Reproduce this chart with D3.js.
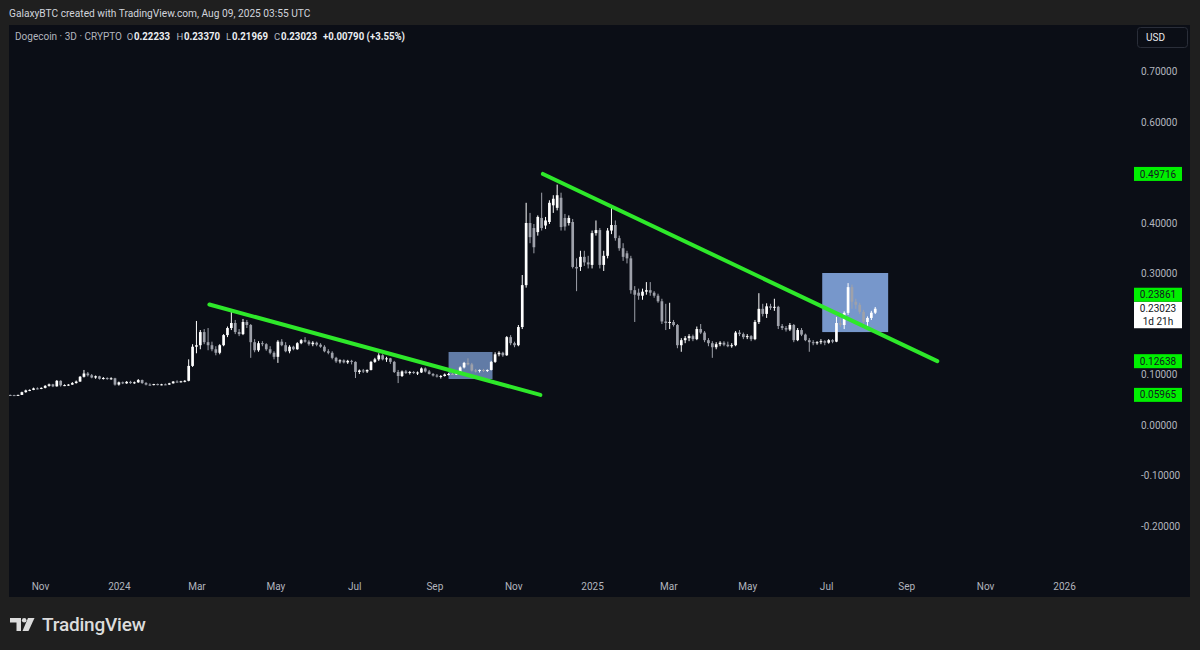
<!DOCTYPE html>
<html><head><meta charset="utf-8">
<script src="https://cdn.jsdelivr.net/npm/d3@7"></script>
<style>
html,body{margin:0;padding:0;background:#1f1f1f;overflow:hidden;}
svg{display:block;font-family:Roboto,"Liberation Sans",sans-serif;}
</style></head><body>
<svg id="chart" width="1200" height="650"></svg>
<script>
// ---- data ----
const candleStart = "2023-10-09";
const candleStepDays = 3;
const opens = [
.0595,.0592,.0590,.0596,.0650,.0685,.0695,.0725,.0720,.0735,
.0775,.0805,.0765,.0875,.0785,.0790,.0800,.0830,.0860,.0955,
.1020,.0985,.0940,.0965,.0915,.0930,.0910,.0925,.0800,.0845,
.0825,.0855,.0830,.0845,.0890,.0830,.0800,.0795,.0810,.0795,
.0805,.0800,.0825,.0860,.0850,.0865,.0875,.1170,.1550,.1580,
.1840,.1640,.1580,.1500,.1430,.1580,.1780,.1920,.2020,.1840,
.1800,.2040,.1980,.1640,.1480,.1620,.1600,.1500,.1430,.1350,
.1650,.1580,.1460,.1550,.1500,.1620,.1680,.1650,.1600,.1630,
.1590,.1550,.1460,.1430,.1330,.1260,.1280,.1240,.1270,.1250,
.1050,.1080,.1060,.1090,.1250,.1300,.1380,.1300,.1320,.1250,
.1050,.0970,.1060,.1030,.1050,.1030,.1040,.1120,.1060,.1010,
.0980,.0960,.0970,.1000,.1010,.1000,.1040,.1140,.1230,.1200,
.1080,.1070,.1090,.1070,.1090,.1250,.1400,.1430,.1380,.1740,
.1620,.1580,.1940,.2770,.4000,.3900,.3820,.4100,.3950,.4020,
.4350,.4300,.4500,.4100,.4000,.4020,.3130,.3130,.3330,.3220,
.3170,.3800,.3860,.3170,.3350,.3850,.3960,.3700,.3500,.3400,
.3300,.2670,.2620,.2560,.2640,.2670,.2620,.2560,.2450,.2050,
.2020,.2040,.1980,.1580,.1680,.1720,.1760,.1700,.1900,.1830,
.1680,.1620,.1540,.1600,.1630,.1590,.1560,.1580,.1830,.1800,
.1740,.1760,.1700,.2040,.2300,.2200,.2350,.2320,.2340,.1960,
.1920,.1890,.1980,.1680,.1880,.1790,.1680,.1640,.1620,.1640,
.1660,.1630,.1680,.1650,.2020,.1980,.2220,.2730,.2440,.2380,
.2240,.2040,.2120,.22233
];
const highs = [
.0602,.0598,.0600,.0660,.0700,.0705,.0740,.0745,.0745,.0790,
.0820,.0815,.0890,.0885,.0805,.0810,.0850,.0880,.0970,.1090,
.1050,.1010,.0980,.0975,.0950,.0945,.0945,.0935,.0860,.0860,
.0870,.0875,.0860,.0910,.0900,.0850,.0825,.0815,.0820,.0815,
.0820,.0835,.0870,.0885,.0875,.0890,.1300,.1600,.2060,.1880,
.1900,.1920,.1650,.1560,.1600,.1800,.1950,.2280,.2080,.1900,
.2100,.2080,.2000,.1700,.1660,.1660,.1620,.1560,.1460,.1680,
.1700,.1640,.1580,.1570,.1640,.1700,.1740,.1680,.1660,.1650,
.1620,.1580,.1500,.1460,.1350,.1300,.1300,.1290,.1290,.1260,
.1100,.1110,.1100,.1270,.1330,.1420,.1400,.1350,.1330,.1270,
.1090,.1080,.1090,.1070,.1070,.1060,.1140,.1140,.1090,.1030,
.1010,.0990,.1020,.1030,.1040,.1060,.1160,.1250,.1320,.1230,
.1110,.1100,.1110,.1100,.1270,.1440,.1460,.1450,.1760,.1780,
.1650,.1980,.2970,.4400,.4200,.3980,.4150,.4600,.4120,.4450,
.4550,.4760,.4600,.4180,.4150,.4080,.3300,.3450,.3450,.3350,
.3850,.4050,.3900,.3450,.3900,.4320,.4050,.3750,.3600,.3450,
.3350,.2750,.2700,.2700,.2830,.2830,.2650,.2600,.2500,.2400,
.2420,.2080,.2000,.1720,.1760,.1800,.1790,.1950,.2000,.1860,
.1720,.1660,.1640,.1660,.1660,.1650,.1620,.1860,.1880,.1830,
.1800,.1780,.2080,.2610,.2400,.2410,.2400,.2500,.2360,.2000,
.1960,.2020,.2000,.1920,.1920,.1810,.1720,.1680,.1660,.1700,
.1680,.1700,.1700,.2140,.2220,.2250,.2810,.2780,.2500,.2420,
.2280,.2150,.2260,.2337
];
const lows = [
.0588,.0585,.0586,.0594,.0640,.0670,.0690,.0705,.0710,.0725,
.0760,.0750,.0760,.0760,.0770,.0775,.0795,.0820,.0855,.0940,
.0960,.0925,.0915,.0900,.0900,.0895,.0895,.0780,.0780,.0810,
.0815,.0815,.0815,.0835,.0815,.0785,.0780,.0785,.0785,.0785,
.0790,.0795,.0820,.0840,.0840,.0845,.0865,.1150,.1420,.1500,
.1600,.1480,.1460,.1380,.1400,.1560,.1740,.1880,.1800,.1760,
.1780,.1920,.1330,.1440,.1450,.1560,.1470,.1400,.1300,.1230,
.1560,.1440,.1420,.1480,.1490,.1600,.1630,.1570,.1560,.1560,
.1530,.1440,.1400,.1300,.1230,.1220,.1220,.1210,.1200,.0930,
.1010,.1030,.1030,.1080,.1230,.1270,.1280,.1250,.1210,.1030,
.0830,.0950,.1010,.1000,.1010,.0990,.1030,.1040,.1000,.0960,
.0940,.0920,.0960,.0980,.0990,.0990,.1030,.1120,.1180,.1060,
.1040,.1040,.1050,.1050,.1080,.1230,.1360,.1350,.1370,.1580,
.1540,.1560,.1900,.2720,.3600,.3400,.3750,.3850,.3880,.3980,
.4200,.4250,.3850,.3850,.3950,.3100,.2650,.3050,.3150,.3100,
.3100,.3750,.3100,.3050,.3300,.3780,.3650,.3450,.3250,.3200,
.2600,.2040,.2480,.2480,.2580,.2560,.2520,.2420,.2000,.1880,
.1900,.1950,.1520,.1450,.1620,.1660,.1660,.1680,.1800,.1640,
.1560,.1330,.1500,.1560,.1560,.1540,.1530,.1560,.1760,.1700,
.1700,.1660,.1680,.2000,.2150,.2120,.2280,.2260,.1900,.1880,
.1850,.1860,.1640,.1660,.1760,.1660,.1450,.1580,.1590,.1600,
.1580,.1610,.1620,.1640,.1940,.1900,.2180,.2300,.2300,.2200,
.2000,.1920,.2080,.21969
];
const closes = [
.0592,.0590,.0596,.0650,.0685,.0695,.0725,.0720,.0735,.0775,
.0805,.0765,.0875,.0785,.0790,.0800,.0830,.0860,.0955,.1020,
.0985,.0940,.0965,.0915,.0930,.0910,.0925,.0800,.0845,.0825,
.0855,.0830,.0845,.0890,.0830,.0800,.0795,.0810,.0795,.0805,
.0800,.0825,.0860,.0850,.0865,.0875,.1170,.1550,.1580,.1840,
.1640,.1580,.1500,.1430,.1580,.1780,.1920,.2020,.1840,.1800,
.2040,.1980,.1640,.1480,.1620,.1600,.1500,.1430,.1350,.1650,
.1580,.1460,.1550,.1500,.1620,.1680,.1650,.1600,.1630,.1590,
.1550,.1460,.1430,.1330,.1260,.1280,.1240,.1270,.1250,.1050,
.1080,.1060,.1090,.1250,.1300,.1380,.1300,.1320,.1250,.1050,
.0970,.1060,.1030,.1050,.1030,.1040,.1120,.1060,.1010,.0980,
.0960,.0970,.1000,.1010,.1000,.1040,.1140,.1230,.1200,.1080,
.1070,.1090,.1070,.1090,.1250,.1400,.1430,.1380,.1740,.1620,
.1580,.1940,.2770,.4000,.3720,.3520,.4120,.3900,.4050,.4400,
.4480,.4550,.3920,.3930,.4100,.3130,.3100,.3330,.3220,.3180,
.3800,.3860,.3170,.3350,.3850,.3960,.3700,.3500,.3330,.3300,
.2670,.2580,.2560,.2640,.2670,.2620,.2560,.2450,.2050,.2020,
.2040,.1980,.1580,.1680,.1720,.1760,.1700,.1900,.1830,.1680,
.1620,.1540,.1600,.1630,.1590,.1560,.1580,.1830,.1800,.1740,
.1760,.1700,.2040,.2300,.2200,.2350,.2320,.2340,.1960,.1920,
.1890,.1980,.1680,.1880,.1790,.1680,.1640,.1620,.1640,.1660,
.1630,.1680,.1650,.2020,.1980,.2220,.2730,.2440,.2380,.2240,
.2040,.2120,.22233,.23023
];
const xTickDates = ["2023-11-01","2024-01-01","2024-03-01","2024-05-01","2024-07-01","2024-09-01","2024-11-01","2025-01-01","2025-03-01","2025-05-01","2025-07-01","2025-09-01","2025-11-01","2026-01-01"];
const xTickLabels = ["Nov","2024","Mar","May","Jul","Sep","Nov","2025","Mar","May","Jul","Sep","Nov","2026"];
const yTickValues = [0.7,0.6,0.4,0.3,0.1,0,-0.1,-0.2];
const trendStartDates = ["2024-03-11","2024-11-24"];
const trendEndDates = ["2024-11-22","2025-09-25"];
const trendStartValues = [0.23861,0.49716];
const trendEndValues = [0.05965,0.12638];
const boxStartDates = ["2024-09-12","2025-06-28"];
const boxEndDates = ["2024-10-16","2025-08-18"];
const boxTopValues = [0.1446,0.301];
const boxBottomValues = [0.0911,0.184];
const boxOpacity = [0.62,0.78];
const greenLabelValues = [0.49716,0.23861,0.12638,0.05965];
const lastPrice = 0.23023;
const lastPriceCountdown = "1d 21h";
const headerText = "GalaxyBTC created with TradingView.com, Aug 09, 2025 03:55 UTC";
const symbolText = "Dogecoin · 3D · CRYPTO";
const ohlcKeys = ["O","H","L","C"];
const ohlcValues = ["0.22233","0.23370","0.21969","0.23023"];
const changeText = "+0.00790 (+3.55%)";

// ---- drawing ----
const svg = d3.select("#chart");
const W = 1200, H = 650;
const panel = {x: 9, y: 25, w: 1181, h: 572};
const parse = d3.utcParse("%Y-%m-%d");
const start = parse(candleStart);
const candles = closes.map((c, i) => ({
  date: d3.utcDay.offset(start, i * candleStepDays),
  o: opens[i], h: highs[i], l: lows[i], c: c
}));

const x = d3.scaleUtc().domain([parse("2023-11-01"), parse("2026-01-01")]).range([40, 1064]);
const y = d3.scaleLinear().domain([-0.2, 0.7]).range([526, 71.5]);

svg.append("rect").attr("width", W).attr("height", H).attr("fill", "#1f1f1f");
svg.append("text").attr("x", 9).attr("y", 17).attr("fill", "#d1d4dc")
  .attr("font-size", 10.2).text(headerText);
svg.append("rect").attr("x", panel.x).attr("y", panel.y).attr("width", panel.w).attr("height", panel.h)
  .attr("fill", "#0b0e16");

svg.append("clipPath").attr("id", "plotclip").append("rect")
  .attr("x", panel.x).attr("y", panel.y).attr("width", 1120).attr("height", 545);
const plot = svg.append("g").attr("clip-path", "url(#plotclip)");

// boxes (below candles)
plot.selectAll("rect.box").data(boxStartDates).join("rect").attr("class", "box")
  .attr("x", (d, i) => x(parse(d)))
  .attr("y", (d, i) => y(boxTopValues[i]))
  .attr("width", (d, i) => x(parse(boxEndDates[i])) - x(parse(d)))
  .attr("height", (d, i) => y(boxBottomValues[i]) - y(boxTopValues[i]))
  .attr("fill", "rgb(150,190,255)")
  .attr("fill-opacity", (d, i) => boxOpacity[i]);

const upCol = "#ffffff", downCol = "#9ea1aa";
const bw = 2.7;
const cg = plot.append("g");
cg.selectAll("line").data(candles).join("line")
  .attr("x1", d => x(d.date)).attr("x2", d => x(d.date))
  .attr("y1", d => y(d.h)).attr("y2", d => y(d.l))
  .attr("stroke", d => d.c >= d.o ? upCol : downCol).attr("stroke-width", 1);
cg.selectAll("rect").data(candles).join("rect")
  .attr("x", d => x(d.date) - bw / 2)
  .attr("y", d => y(Math.max(d.o, d.c)))
  .attr("width", bw)
  .attr("height", d => Math.max(1, Math.abs(y(d.o) - y(d.c))))
  .attr("fill", d => d.c >= d.o ? upCol : downCol);

// trend lines
plot.selectAll("line.trend").data(trendStartDates).join("line").attr("class", "trend")
  .attr("x1", d => x(parse(d))).attr("y1", (d, i) => y(trendStartValues[i]))
  .attr("x2", (d, i) => x(parse(trendEndDates[i]))).attr("y2", (d, i) => y(trendEndValues[i]))
  .attr("stroke", "#2ee82a").attr("stroke-width", 4).attr("stroke-linecap", "round");

// legend
const lg = svg.append("g").attr("font-size", 10.5);
lg.append("text").attr("x", 15).attr("y", 40).attr("fill", "#b2b5be")
  .attr("textLength", 107).attr("lengthAdjust", "spacingAndGlyphs").text(symbolText);
const valX = [134, 184, 232, 281];
ohlcKeys.forEach((k, i) => {
  lg.append("text").attr("x", valX[i] - 0.8).attr("y", 40).attr("text-anchor", "end")
    .attr("font-size", 9.5).attr("fill", "#b2b5be").text(k);
  lg.append("text").attr("x", valX[i]).attr("y", 40).attr("fill", "#eceef2").attr("font-weight", 700)
    .attr("textLength", 36).attr("lengthAdjust", "spacingAndGlyphs").text(ohlcValues[i]);
});
lg.append("text").attr("x", 323).attr("y", 40).attr("fill", "#eceef2").attr("font-weight", 700)
  .attr("textLength", 82).attr("lengthAdjust", "spacingAndGlyphs").text(changeText);

// x axis
const xAxis = d3.axisBottom(x).tickValues(xTickDates.map(parse))
  .tickFormat((d, i) => xTickLabels[i]).tickSize(0).tickPadding(0);
const gx = svg.append("g").attr("transform", "translate(0,583)").call(xAxis);
gx.select(".domain").remove();
gx.selectAll("text").attr("fill", "#b2b5be").attr("font-size", 10).attr("font-family", "Roboto,sans-serif");

// y axis
const yAxis = d3.axisRight(y).tickValues(yTickValues).tickFormat(d => d.toFixed(5)).tickSize(0).tickPadding(0);
const gy = svg.append("g").attr("transform", "translate(1141,0)").call(yAxis);
gy.select(".domain").remove();
gy.selectAll("text").attr("fill", "#b2b5be").attr("font-size", 10).attr("font-family", "Roboto,sans-serif");

// USD box
svg.append("rect").attr("x", 1137.5).attr("y", 27.5).attr("width", 50).attr("height", 20).attr("rx", 3)
  .attr("fill", "#0b0e16").attr("stroke", "#2a2e39");
svg.append("text").attr("x", 1146).attr("y", 41).attr("fill", "#e8e9ec").attr("font-size", 10).text("USD");

// current price label
const lpTop = y(lastPrice) - 7;
const lpG = svg.append("g");
lpG.append("rect").attr("x", 1134).attr("y", lpTop).attr("width", 48).attr("height", 26.5).attr("fill", "#ffffff");
lpG.append("text").attr("x", 1158).attr("y", lpTop + 10.5).attr("text-anchor", "middle")
  .attr("font-size", 10).attr("fill", "#131722").text(lastPrice.toFixed(5));
lpG.append("text").attr("x", 1158).attr("y", lpTop + 23).attr("text-anchor", "middle")
  .attr("font-size", 10).attr("fill", "#131722").text(lastPriceCountdown);

// green price labels (shifted to avoid overlapping the last-price label)
const lh = 14;
greenLabelValues.forEach(v => {
  let cy = y(v);
  if (cy + lh / 2 > lpTop && cy - lh / 2 < lpTop + 26.5) cy = lpTop - lh / 2;
  svg.append("rect").attr("x", 1134).attr("y", cy - lh / 2).attr("width", 48).attr("height", lh).attr("fill", "#00f000");
  svg.append("text").attr("x", 1158).attr("y", cy + 3.6).attr("text-anchor", "middle")
    .attr("font-size", 10).attr("fill", "#131722").text(v.toFixed(5));
});

// TradingView logo
const logo = svg.append("g").attr("fill", "#dcdcdc");
logo.append("path").attr("d", "M10,618 H21 V631 H16.5 V622.5 H10 Z");
logo.append("circle").attr("cx", 24.2).attr("cy", 620.3).attr("r", 2.3);
logo.append("path").attr("d", "M28,618 H34.5 L28.5,631 H22.5 Z");
logo.append("text").attr("x", 42).attr("y", 631).attr("font-size", 19).attr("font-weight", 500)
  .attr("fill", "#dcdcdc").attr("letter-spacing", -0.2).text("TradingView");
</script>
</body></html>
